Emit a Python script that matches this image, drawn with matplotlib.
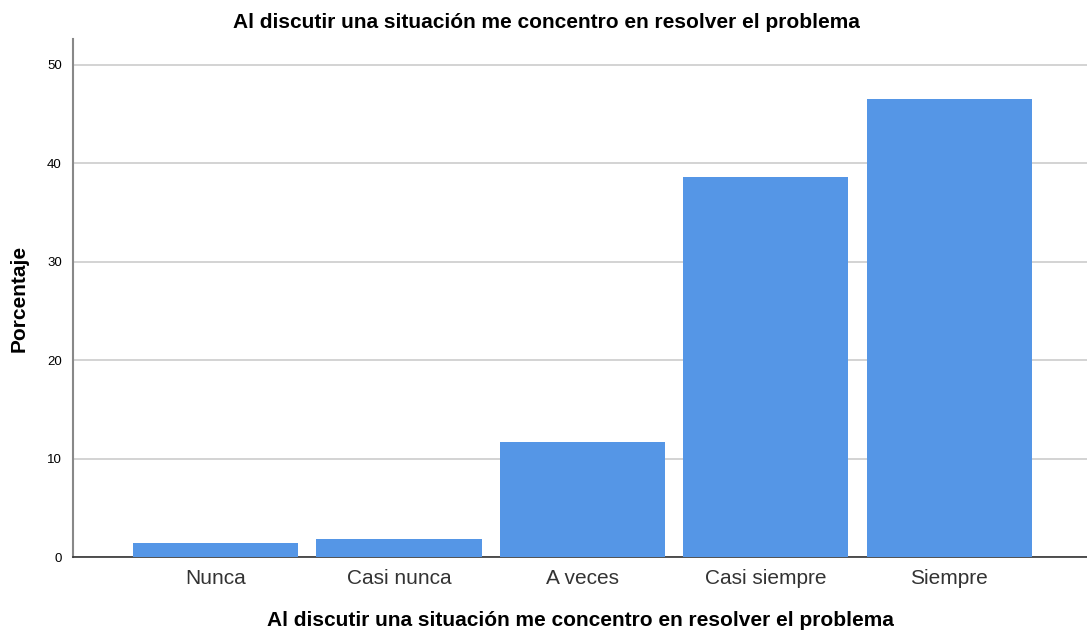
import matplotlib
matplotlib.use("Agg")
import matplotlib.pyplot as plt

categories = ["Nunca", "Casi nunca", "A veces", "Casi siempre", "Siempre"]
values = [1.4, 1.85, 11.7, 38.6, 46.5]
yticks = [0, 10, 20, 30, 40, 50]
title = "Al discutir una situación me concentro en resolver el problema"

plt.rcParams['font.family'] = ['Liberation Sans', 'DejaVu Sans']

W, H = 1087, 633
fig = plt.figure(figsize=(W/100, H/100), dpi=100)
ax = fig.add_axes([73/W, (H-557)/H, (1087-73)/W, (557-39)/H])

x = list(range(len(categories)))
ax.bar(x, values, width=0.9, color="#5596E6", zorder=3)
ax.set_xlim(-0.777, 4.75)
ax.set_ylim(0, 52.6)
ax.set_yticks(yticks)
ax.set_yticklabels([str(t) for t in yticks], fontsize=9.5)
ax.set_xticks(x)
ax.set_xticklabels(categories, fontsize=15, color="#333333")
ax.tick_params(axis='both', length=0)
ax.tick_params(axis='y', pad=8)
ax.tick_params(axis='x', pad=9)
ax.grid(axis='y', color="#d0d0d0", linewidth=1.3, zorder=0)
for s in ['top', 'right']:
    ax.spines[s].set_visible(False)
ax.spines['left'].set_color("#888888")
ax.spines['left'].set_linewidth(1.5)
ax.spines['bottom'].set_color("#333333")
ax.spines['bottom'].set_linewidth(1.2)

ax.set_ylabel("Porcentaje", fontsize=15, fontweight='bold', labelpad=13)
ax.set_xlabel(title, fontsize=15, fontweight='bold', labelpad=16)
fig.text(546/W, 1-22/H, title, ha='center', va='center', fontsize=15, fontweight='bold')

fig.savefig("out.png", dpi=100)
